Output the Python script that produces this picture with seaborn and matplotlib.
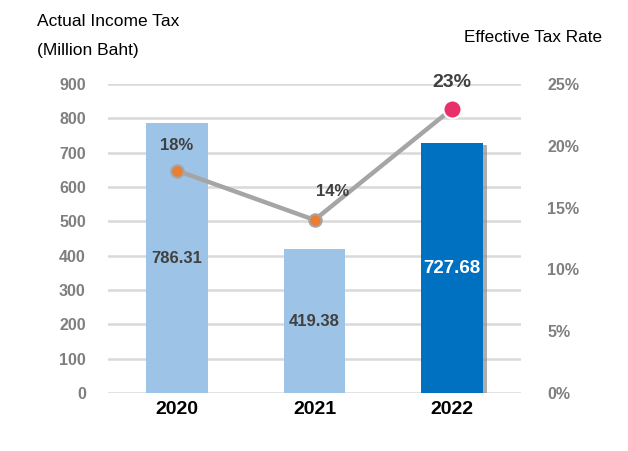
import matplotlib
matplotlib.use("Agg")
import matplotlib.pyplot as plt
import matplotlib.patheffects as pe
import seaborn as sns
import pandas as pd

years = ["2020", "2021", "2022"]
income_tax = [786.31, 419.38, 727.68]
tax_rate = [18, 14, 23]
bar_colors = ["#9dc3e6", "#9dc3e6", "#0070c0"]
left_ticks = [0, 100, 200, 300, 400, 500, 600, 700, 800, 900]
right_ticks = [0, 5, 10, 15, 20, 25]

sns.set_theme(style="white")
plt.rcParams['font.family'] = ['Liberation Sans', 'DejaVu Sans']

df = pd.DataFrame({"year": years, "tax": income_tax, "rate": tax_rate})

fig = plt.figure(figsize=(6.28, 4.51), dpi=100)
ax = fig.add_axes([108/628, 58/451, 413/628, 309/451])

sns.barplot(data=df, x="year", y="tax", hue="year", palette=bar_colors,
            width=0.45, legend=False, ax=ax, zorder=3, saturation=1, linewidth=0)
# shadow on the highlighted bar
ax.patches[2].set_path_effects([pe.SimplePatchShadow(offset=(2.5, -1), shadow_rgbFace="#8c8c8c", alpha=0.7), pe.Normal()])

ax.set_ylim(0, 900)
ax.set_xlim(-0.5, 2.5)
ax.set_yticks(left_ticks)
ax.set_xlabel("")
ax.set_ylabel("")
ax.grid(axis="y", color="#d9d9d9", linewidth=1.8, zorder=0)
ax.set_axisbelow(True)
for s in ax.spines.values():
    s.set_visible(False)
ax.tick_params(axis="y", length=0, pad=16, labelsize=11.5, labelcolor="#7f7f7f")
ax.tick_params(axis="x", length=0, pad=6, labelsize=14, labelcolor="black")
for lbl in ax.get_yticklabels():
    lbl.set_fontweight("bold")
for lbl in ax.get_xticklabels():
    lbl.set_fontweight("bold")

# bar value labels
for i, v in enumerate(income_tax):
    if i == 2:
        ax.text(i, v / 2, f"{v:.2f}", ha="center", va="center", color="white",
                fontsize=13.5, fontweight="bold", zorder=5)
    else:
        ax.text(i, v / 2, f"{v:.2f}", ha="center", va="center", color="#404040",
                fontsize=12, fontweight="bold", zorder=5)

ax2 = ax.twinx()
ax2.set_ylim(0, 25)
ax2.set_yticks(right_ticks)
ax2.set_yticklabels([f"{t}%" for t in right_ticks])
for s in ax2.spines.values():
    s.set_visible(False)
ax2.tick_params(axis="y", length=0, pad=19, labelsize=11.5, labelcolor="#7f7f7f")
for lbl in ax2.get_yticklabels():
    lbl.set_fontweight("bold")
ax2.grid(False)

sns.lineplot(x=[0, 1, 2], y=tax_rate, color="#a5a5a5", linewidth=3.2, ax=ax2, zorder=4)
ax2.scatter([0, 1], tax_rate[:2], s=80, color="#ed7d31", edgecolor="#a5a5a5",
            linewidth=1.5, zorder=6)
ax2.scatter([2], tax_rate[2:], s=170, color="#e8306a", edgecolor="white",
            linewidth=1.5, zorder=6)
ax2.set_ylabel("")

ax2.text(0, tax_rate[0] + 2.0, f"{tax_rate[0]}%", ha="center", va="center",
         fontsize=12, fontweight="bold", color="#404040", zorder=8)
ax2.text(1.13, tax_rate[1] + 2.3, f"{tax_rate[1]}%", ha="center", va="center",
         fontsize=12, fontweight="bold", color="#404040", zorder=8)
ax2.text(2, tax_rate[2] + 2.1, f"{tax_rate[2]}%", ha="center", va="center",
         fontsize=14, fontweight="bold", color="#404040", zorder=8)

fig.text(37/628, 1 - 22/451, "Actual Income Tax", ha="left", va="center",
         fontsize=12.5, color="black")
fig.text(37/628, 1 - 50/451, "(Million Baht)", ha="left", va="center",
         fontsize=12.5, color="black")
fig.text(602/628, 1 - 38/451, "Effective Tax Rate", ha="right", va="center",
         fontsize=12.3, color="black")

fig.savefig("out.png", dpi=100)
